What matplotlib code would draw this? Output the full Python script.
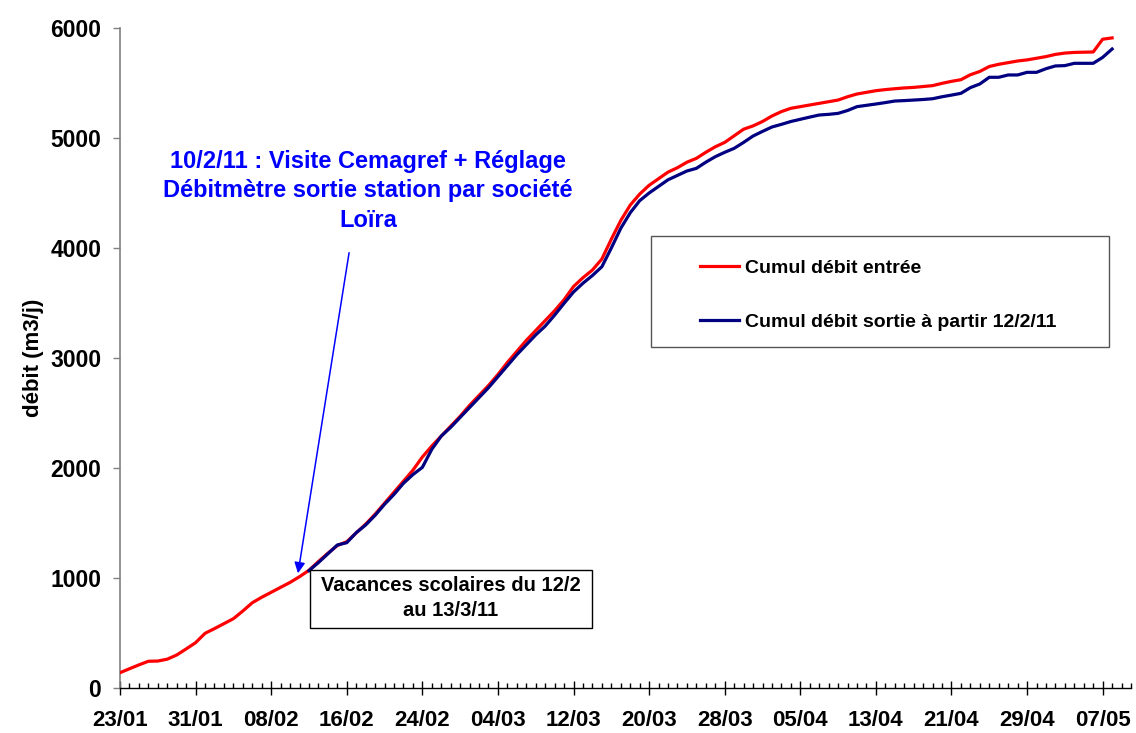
import matplotlib
matplotlib.use('Agg')
import matplotlib.pyplot as plt
import matplotlib.dates as mdates
import matplotlib.patches as mpatches
import matplotlib.ticker as mticker
import numpy as np
import pandas as pd
from datetime import datetime

RED = '#FF0000'; NAVY = '#000080'; BLUE = '#0000FF'
GREY = '#808080'; DARK = '#000000'
plt.rcParams.update({'font.family': ['Liberation Sans', 'DejaVu Sans'],
                     'font.weight': 'bold'})

W, H = 1136, 733   # figure size in pixels

# daily cumulative flows, 23/01/2011 -> 08/05/2011
dates = pd.date_range('2011-01-23', '2011-05-08', freq='D')
cumul_entree = [
    139, 175, 210, 243, 245, 262, 300, 355, 412, 497,
    540, 585, 630, 700, 775, 825, 870, 915, 960, 1012,
    1070, 1150, 1225, 1295, 1330, 1410, 1490, 1580, 1680, 1780,
    1880, 1980, 2100, 2200, 2290, 2380, 2470, 2570, 2660, 2750,
    2850, 2960, 3060, 3160, 3250, 3340, 3430, 3530, 3650, 3730,
    3800, 3900, 4080, 4250, 4390, 4490, 4570, 4630, 4690, 4730,
    4780, 4815, 4870, 4920, 4960, 5020, 5080, 5110, 5150, 5200,
    5240, 5270, 5285, 5300, 5315, 5330, 5345, 5375, 5400, 5415,
    5430, 5440, 5448, 5455, 5460, 5468, 5476, 5497, 5515, 5530,
    5575, 5605, 5650, 5670, 5685, 5700, 5710, 5725, 5740, 5760,
    5772, 5778, 5780, 5782, 5898, 5910,
]
# outlet flow only counted from 12/02/2011
cumul_sortie = [np.nan] * 20 + [
    1067, 1140, 1220, 1300, 1321, 1412, 1482, 1570, 1670, 1760,
    1861, 1940, 2006, 2170, 2290, 2370, 2460, 2550, 2640, 2730,
    2830, 2930, 3030, 3120, 3210, 3290, 3390, 3497, 3600, 3680,
    3750, 3830, 4000, 4179, 4320, 4430, 4500, 4560, 4620, 4660,
    4700, 4724, 4780, 4830, 4870, 4906, 4960, 5018, 5060, 5100,
    5124, 5150, 5170, 5190, 5209, 5215, 5224, 5250, 5285, 5297,
    5309, 5322, 5336, 5340, 5345, 5350, 5357, 5375, 5390, 5406,
    5458, 5491, 5552, 5552, 5573, 5573, 5597, 5597, 5630, 5655,
    5658, 5679, 5679, 5679, 5733, 5809,
]
labels = ['Cumul débit entrée', 'Cumul débit sortie à partir 12/2/11']
major_days = pd.date_range('2011-01-23', '2011-05-07', freq='8D')

def fx(px): return px / W
def fy(py): return 1 - py / H

fig = plt.figure(figsize=(W / 100, H / 100), dpi=100)
fig.patch.set_facecolor('white')
ax = fig.add_axes([fx(120), fy(688), 1011 / W, 660 / H])

l1, = ax.plot(dates, cumul_entree, color=RED, lw=2.3, zorder=3)
l2, = ax.plot(dates, cumul_sortie, color=NAVY, lw=2.3, zorder=4)

start = mdates.date2num(datetime(2011, 1, 23))
ax.set_xlim(start, start + 107)
ax.set_ylim(0, 6000)
ax.set_yticks(np.arange(0, 6001, 1000))

ax.xaxis.set_major_locator(mticker.FixedLocator(mdates.date2num(major_days)))
ax.xaxis.set_minor_locator(mdates.DayLocator())
ax.xaxis.set_major_formatter(mdates.DateFormatter('%d/%m'))

for s in ('top', 'right'):
    ax.spines[s].set_visible(False)
ax.spines['left'].set_color(GREY); ax.spines['left'].set_linewidth(1.2)
ax.spines['bottom'].set_color(DARK); ax.spines['bottom'].set_linewidth(1.0)

ax.tick_params(axis='x', which='major', direction='inout', length=9.6, width=1,
               color=DARK, pad=11, labelsize=16)
ax.tick_params(axis='x', which='minor', direction='in', length=3.8, width=1, color=DARK)
ax.tick_params(axis='y', direction='out', length=5, width=1, color=GREY,
               pad=8.5, labelsize=16.5)
for t in ax.get_xticklabels() + ax.get_yticklabels():
    t.set_fontweight('bold')

ax.set_ylabel('débit (m3/j)', fontsize=16, fontweight='bold')
ax.yaxis.set_label_coords(-0.075, 0.5)

# annotation: meter adjustment on 10/02
ax.annotate('', xy=(mdates.date2num(datetime(2011, 2, 10, 19)), 1018),
            xytext=(mdates.date2num(datetime(2011, 2, 16, 7)), 3982),
            arrowprops=dict(arrowstyle='-|>', color=BLUE, lw=1.1, mutation_scale=16),
            zorder=6)
fig.text(fx(368), fy(191),
         '10/2/11 : Visite Cemagref + Réglage\nDébitmètre sortie station par société\nLoïra',
         ha='center', va='center', fontsize=17, fontweight='bold', color=BLUE,
         linespacing=1.35)

# school holidays box
fig.add_artist(mpatches.Rectangle((fx(310), fy(628)), 282 / W, 58 / H,
               transform=fig.transFigure, facecolor='white', edgecolor=DARK, lw=1))
fig.text(fx(451), fy(598), 'Vacances scolaires du 12/2\nau 13/3/11',
         ha='center', va='center', fontsize=14.5, fontweight='bold', color=DARK,
         linespacing=1.45)

# legend with its own frame
fig.add_artist(mpatches.Rectangle((fx(651), fy(347)), 458 / W, 111 / H,
               transform=fig.transFigure, fill=False, edgecolor='#555555', lw=1))
ax.legend([l1, l2], labels, loc='center left', bbox_to_anchor=(fx(700), fy(295)),
          bbox_transform=fig.transFigure, frameon=False,
          handlelength=2.0, handletextpad=0.3, labelspacing=1.85,
          borderpad=0, borderaxespad=0, prop={'weight': 'bold', 'size': 14})

fig.savefig('out.png', dpi=100, facecolor='white')
